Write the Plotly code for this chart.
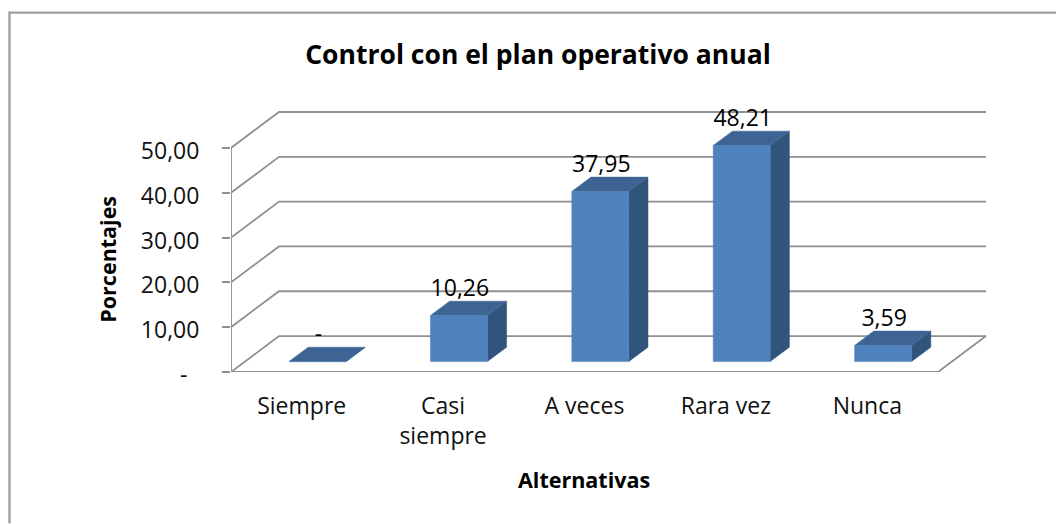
import plotly.graph_objects as go

categories = ["Siempre", "Casi<br>siempre", "A veces", "Rara vez", "Nunca"]
values = [0.0, 10.26, 37.95, 48.21, 3.59]
value_labels = ["-", "10,26", "37,95", "48,21", "3,59"]
tick_values = [0, 10, 20, 30, 40, 50]
tick_labels = ["-\u00a0\u00a0", "10,00", "20,00", "30,00", "40,00", "50,00"]
title_text = "Control con el plan operativo anual"
x_title = "Alternativas"
y_title = "Porcentajes"

FONT = "'Open Sans', sans-serif"
GRID = "#909090"
FRONT = "#4f81bd"
TOP = "#3d6493"
SIDE = "#31547c"

W, H = 1056, 524
L, R, T, B = 231, 1000, 100, 372.5
PX_CAT = 141.4
PX_VAL = 4.49
DX = 48 / PX_CAT      # oblique depth of the floor, in category units
DY = 36 / PX_VAL      # oblique depth of the floor, in value units
BAR_LEFT = 58 / PX_CAT
BAR_W = 57 / PX_CAT
D1, D2 = 0.29, 0.69   # bar depth span (fraction of the floor depth)
LABEL_LIFT = 25.5 / PX_VAL
n = len(categories)

fig = go.Figure()


def line(xs, ys):
    fig.add_trace(go.Scatter(x=xs, y=ys, mode="lines", showlegend=False, hoverinfo="skip",
                             line=dict(color=GRID, width=1.8)))


def face(xs, ys, color):
    fig.add_trace(go.Scatter(x=xs + xs[:1], y=ys + ys[:1], mode="lines", fill="toself", fillcolor=color,
                             showlegend=False, hoverinfo="skip", line=dict(color=color, width=0.5)))


for v in tick_values:
    line([0, DX, n + DX], [v, v + DY, v + DY])
line([0, 0], [0, tick_values[-1]])
line([0, n, n + DX], [0, 0, DY])

for i, v in enumerate(values):
    x0 = i + BAR_LEFT
    x1 = x0 + BAR_W
    base = D1 * DY
    back = (D2 - D1)
    bx, by = back * DX, back * DY
    top = base + v
    face([x1, x1 + bx, x1 + bx, x1], [base, base + by, top + by, top], SIDE)
    face([x0, x1, x1 + bx, x0 + bx], [top, top, top + by, top + by], TOP)
    face([x0, x1, x1, x0], [base, base, top, top], FRONT)

fig.add_trace(go.Scatter(
    x=[i + BAR_LEFT + BAR_W / 2 + 1 / PX_CAT for i in range(n)],
    y=[D1 * DY + v + LABEL_LIFT for v in values],
    mode="text", text=value_labels, textposition="middle center",
    textfont=dict(family=FONT, size=23, color="#000000"),
    showlegend=False, hoverinfo="skip", cliponaxis=False))

# plot-area relative paper coordinates for the chart frame and axis titles
fx = lambda p: (p - L) / (R - L)
fy = lambda p: (B - p) / (B - T)

fig.update_layout(
    width=W, height=H, autosize=False,
    margin=dict(l=L, r=W - R, t=T, b=H - B, autoexpand=False),
    paper_bgcolor="white", plot_bgcolor="white",
    font=dict(family=FONT, color="#000000"),
    title=dict(text=f"<b>{title_text}</b>", font=dict(family=FONT, size=26.5, color="#000000"),
               x=538 / W, xanchor="center", xref="container",
               y=1 - 55 / H, yanchor="middle", yref="container"),
    xaxis=dict(range=[0, (R - L) / PX_CAT], tickmode="array",
               tickvals=[i + 0.5 for i in range(n)], ticktext=categories,
               showgrid=False, zeroline=False, showline=False, ticks="",
               ticklabelstandoff=18, tickfont=dict(family=FONT, size=23, color="#111111")),
    yaxis=dict(range=[0, (B - T) / PX_VAL], tickmode="array",
               tickvals=tick_values, ticktext=tick_labels,
               showgrid=False, zeroline=False, showline=False,
               ticks="outside", ticklen=8, tickwidth=1.8, tickcolor=GRID,
               ticklabelstandoff=18, ticklabelshift=3,
               tickfont=dict(family=FONT, size=23, color="#111111")),
    annotations=[
        dict(text=f"<b>{x_title}</b>", xref="paper", yref="paper", x=fx(583.5), y=fy(480),
             showarrow=False, xanchor="center", yanchor="middle",
             font=dict(family=FONT, size=21.5, color="#000000")),
        dict(text=f"<b>{y_title}</b>", xref="paper", yref="paper", x=fx(108), y=fy(260),
             showarrow=False, xanchor="center", yanchor="middle", textangle=-90,
             font=dict(family=FONT, size=21.5, color="#000000")),
    ],
    shapes=[dict(type="path", xref="paper", yref="paper",
                 path=f"M {fx(9.5)} {fy(H)} L {fx(9.5)} {fy(12.5)} L {fx(W)} {fy(12.5)}",
                 line=dict(color="#a0a0a0", width=2.4))],
)

fig.write_html("out.html", config=dict(displayModeBar=False),
               post_script="document.body.style.margin='0';window.dispatchEvent(new Event('resize'));")
